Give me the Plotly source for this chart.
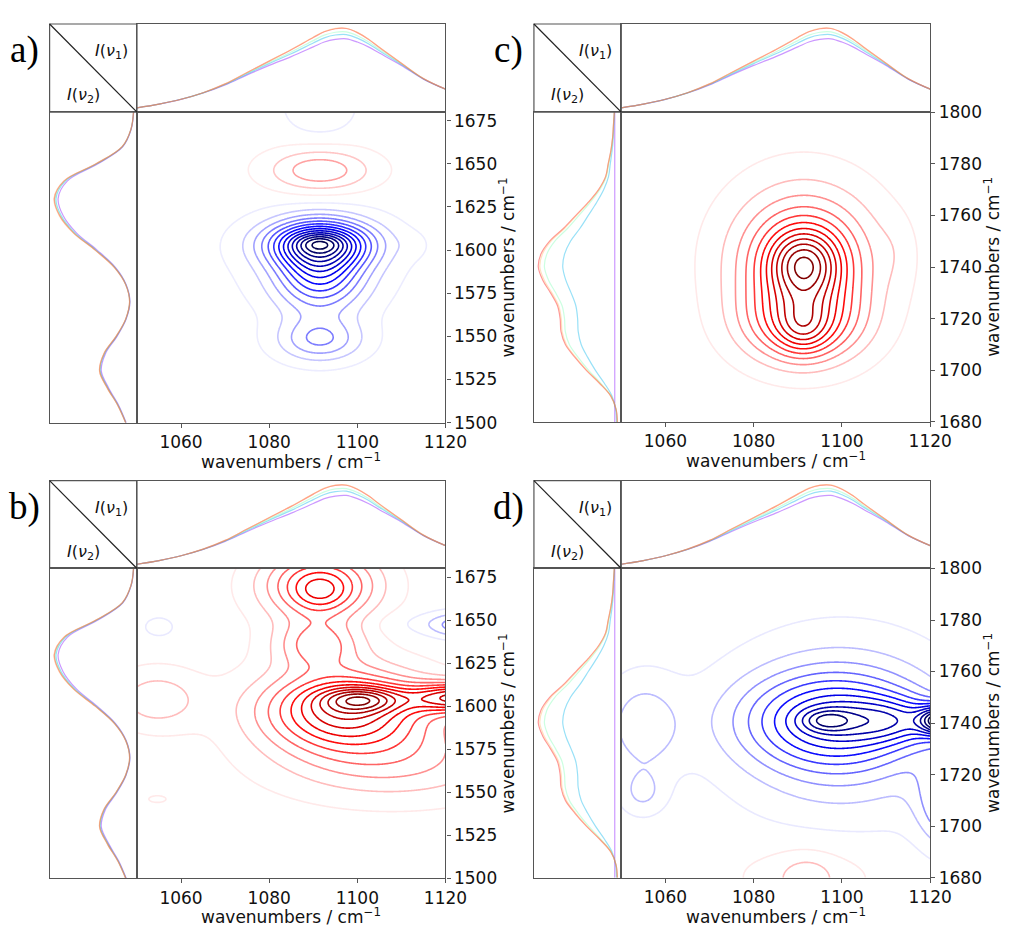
import numpy as np
import plotly.graph_objects as go

W, H = 1020, 933

# ---------------- 1D spectra (intensity, fraction of the side panel) ----------------
top_nu = [1050, 1055, 1060, 1065, 1070, 1075, 1080, 1085, 1090, 1092.5, 1095, 1097.5,
          1100, 1102.5, 1105, 1110, 1115, 1120]
top_int = [0.048, 0.09, 0.145, 0.22, 0.32, 0.45, 0.58, 0.71, 0.85, 0.915, 0.95, 0.952,
           0.905, 0.83, 0.735, 0.555, 0.38, 0.26]
top_spread = [0, 0, 0, 0.004, 0.012, 0.028, 0.05, 0.08, 0.11, 0.12, 0.125, 0.12,
              0.11, 0.09, 0.065, 0.025, 0.006, 0]

left_ab_nu = [1500, 1510, 1520, 1530, 1540, 1550, 1560, 1570, 1580, 1590,
              1600, 1610, 1620, 1630, 1640, 1650, 1660, 1670, 1680]
left_ab_int = [0.13, 0.22, 0.34, 0.43, 0.38, 0.24, 0.13, 0.085, 0.13, 0.26,
               0.48, 0.73, 0.89, 0.95, 0.84, 0.47, 0.17, 0.07, 0.04]

left_cd_nu = [1680, 1685, 1690, 1695, 1700, 1705, 1710, 1715, 1720, 1725, 1730, 1735, 1740,
              1745, 1750, 1755, 1760, 1765, 1770, 1775, 1780, 1785, 1790, 1795, 1800]
left_cd_int = [0.045, 0.06, 0.12, 0.25, 0.40, 0.53, 0.64, 0.69, 0.70, 0.73, 0.81, 0.90, 0.95,
               0.92, 0.82, 0.66, 0.52, 0.38, 0.26, 0.18, 0.15, 0.12, 0.10, 0.09, 0.08]
left_cd_floor = 0.075

spec_colors = ['rgb(128,0,255)', 'rgb(0,180,236)', 'rgb(128,255,180)', 'rgb(255,0,0)', 'rgb(255,180,98)']
top_spread_w = [1.0, 0.6, 0.35, 0.03, 0.0]
left_ab_scale = [0.95, 0.975, 0.985, 0.995, 1.0]
left_cd_scale = [0.0, 0.68, 0.92, 1.0, 0.98]

# ---------------- 2D correlation band components (nu1, nu2, width1, width2, amplitude) ----------------
a_nu1 = [1091.5, 1091.5, 1091.5, 1091.5, 1091.0, 1112.5, 1091.5, 1091.5]
a_nu2 = [1604, 1604, 1588, 1548, 1595, 1603, 1646, 1684]
a_w1 = [3.5, 8.5, 7.0, 6.8, 14, 2.5, 8.5, 5.5]
a_w2 = [3.5, 9.0, 16, 9.0, 22, 5.0, 9.0, 12]
a_amp = [-0.15, -0.6, -0.5, -0.28, -0.08, -0.03, 0.27, -0.12]

b_nu1 = [1101, 1097, 1124, 1054.5, 1054.6, 1091.5, 1091.5, 1091, 1055, 1124, 1122, 1108]
b_nu2 = [1604, 1598, 1605, 1604, 1546, 1666, 1670, 1636, 1646, 1647, 1648, 1568]
b_w1 = [6, 13, 8, 7, 2.5, 4, 9, 7, 3.5, 5, 12, 18]
b_w2 = [5, 16, 6, 12, 2.5, 7, 14, 10, 6, 5, 5, 16]
b_amp = [0.3, 0.55, 0.55, 0.15, 0.045, 0.09, 0.41, 0.25, -0.05, -0.18, -0.06, 0.18]

c_nu1 = [1091.4, 1091.4, 1091.0, 1091.3, 1112.0]
c_nu2 = [1741, 1742, 1718, 1716, 1746]
c_w1 = [5.5, 11, 9, 4, 3]
c_w2 = [9, 19, 10.5, 7, 9]
c_amp = [0.4, 0.45, 0.35, 0.15, 0.03]

d_nu1 = [1096.5, 1097, 1100, 1123, 1113, 1125, 1055, 1054.8, 1092, 1092]
d_nu2 = [1741, 1741, 1738, 1741, 1741, 1710, 1739, 1713, 1679, 1681]
d_w1 = [4, 14, 16, 3.5, 8, 5, 6, 3.5, 4, 12]
d_w2 = [3, 12, 22, 4, 6, 12, 13, 6, 6, 9]
d_amp = [-0.25, -0.45, -0.3, -0.9, -0.3, -0.4, -0.2, -0.14, 0.13, 0.1]

x_ticks = [1060, 1080, 1100, 1120]
y_ticks_ab = [1500, 1525, 1550, 1575, 1600, 1625, 1650, 1675]
y_ticks_cd = [1680, 1700, 1720, 1740, 1760, 1780, 1800]

seismic = [[0.0, 'rgb(0,0,77)'], [0.25, 'rgb(0,0,255)'], [0.5, 'rgb(255,255,255)'],
           [0.75, 'rgb(255,0,0)'], [1.0, 'rgb(128,0,0)']]

AX = '#555555'
FONT = 'DejaVu Sans'


def surface(n1, n2, c1, c2, w1, w2, amp):
    X, Y = np.meshgrid(n1, n2)
    Z = np.zeros_like(X)
    for p, q, s, t, a in zip(c1, c2, w1, w2, amp):
        Z += a * np.exp(-0.5 * ((X - p) / s) ** 2 - 0.5 * ((Y - q) / t) ** 2)
    return Z


panels = [
    dict(label='a)', box=(50.7, 140, 455.3, 14.3, 104.3, 421.7), yr=(1500, 1680), yt=y_ticks_ab,
         comp=(a_nu1, a_nu2, a_w1, a_w2, a_amp), K=14, left='ab'),
    dict(label='b)', box=(50.7, 140, 455.3, 481, 570.7, 887.3), yr=(1500, 1680), yt=y_ticks_ab,
         comp=(b_nu1, b_nu2, b_w1, b_w2, b_amp), K=12, left='ab'),
    dict(label='c)', box=(545.7, 635, 950.7, 14.3, 104.3, 421.0), yr=(1680, 1800), yt=y_ticks_cd,
         comp=(c_nu1, c_nu2, c_w1, c_w2, c_amp), K=12, left='cd'),
    dict(label='d)', box=(545.7, 635, 950.7, 481, 570.7, 886.7), yr=(1680, 1800), yt=y_ticks_cd,
         comp=(d_nu1, d_nu2, d_w1, d_w2, d_amp), K=12, left='cd'),
]


def aname(letter, n):
    return f'{letter}axis' + ('' if n == 1 else str(n))


def aref(letter, n):
    return letter + ('' if n == 1 else str(n))


fig = go.Figure()
lay = {}
shapes = []
annotations = []

base_axis = dict(showline=True, mirror=True, linecolor=AX, linewidth=1.2,
                 showgrid=False, zeroline=False)
nu1 = np.linspace(1050, 1120, 281)

for i, P in enumerate(panels):
    x0, x1, x2, y0, y1, y2 = P['box']
    nm, nt, nl = 3 * i + 1, 3 * i + 2, 3 * i + 3
    yr = P['yr']
    nu2 = np.linspace(yr[0], yr[1], int((yr[1] - yr[0]) * 2) + 1)
    Z = surface(nu1, nu2, *P['comp'])
    M = float(np.abs(Z).max())
    K = P['K']
    step = M / K
    fig.add_trace(go.Contour(
        x=nu1, y=nu2, z=Z, xaxis=aref('x', nm), yaxis=aref('y', nm),
        autocontour=False,
        contours=dict(start=-(K - 0.5) * step, end=(K - 0.5) * step + 1e-9, size=step,
                      coloring='lines', showlabels=False),
        colorscale=seismic, zmin=-M, zmax=M, showscale=False,
        line=dict(width=1.6, smoothing=1.0), hoverinfo='skip'))

    # top spectra
    for col, w in zip(spec_colors, top_spread_w):
        yy = [v - w * s for v, s in zip(top_int, top_spread)]
        fig.add_trace(go.Scatter(x=top_nu, y=yy, mode='lines', xaxis=aref('x', nt), yaxis=aref('y', nt),
                                 line=dict(color=col, width=1.2, shape='spline'), opacity=0.4,
                                 hoverinfo='skip', showlegend=False))
    # left spectra
    if P['left'] == 'ab':
        for col, s in zip(spec_colors, left_ab_scale):
            xx = [s * v for v in left_ab_int]
            fig.add_trace(go.Scatter(x=xx, y=left_ab_nu, mode='lines', xaxis=aref('x', nl), yaxis=aref('y', nl),
                                     line=dict(color=col, width=1.2, shape='spline'), opacity=0.4,
                                     hoverinfo='skip', showlegend=False))
    else:
        for col, s in zip(spec_colors, left_cd_scale):
            xx = [left_cd_floor + s * (v - left_cd_floor) for v in left_cd_int]
            fig.add_trace(go.Scatter(x=xx, y=left_cd_nu, mode='lines', xaxis=aref('x', nl), yaxis=aref('y', nl),
                                     line=dict(color=col, width=1.2, shape='spline'), opacity=0.4,
                                     hoverinfo='skip', showlegend=False))

    tickfont = dict(family=FONT, size=17, color='#111111')
    lay[aname('x', nm)] = dict(base_axis, domain=[x1 / W, x2 / W], anchor=aref('y', nm), range=[1050, 1120],
                               tickvals=x_ticks, ticks='outside', ticklen=4, tickcolor=AX,
                               tickfont=tickfont)
    lay[aname('y', nm)] = dict(base_axis, domain=[1 - y2 / H, 1 - y1 / H], anchor=aref('x', nm),
                               range=list(yr), side='right', tickvals=P['yt'], ticks='outside',
                               ticklen=4, tickcolor=AX, tickfont=tickfont)
    lay[aname('x', nt)] = dict(base_axis, domain=[x1 / W, x2 / W], anchor=aref('y', nt), range=[1050, 1120],
                               showticklabels=False, ticks='')
    lay[aname('y', nt)] = dict(base_axis, domain=[1 - y1 / H, 1 - y0 / H], anchor=aref('x', nt), range=[0, 1],
                               showticklabels=False, ticks='')
    lay[aname('x', nl)] = dict(base_axis, domain=[x0 / W, x1 / W], anchor=aref('y', nl), range=[1, 0],
                               showticklabels=False, ticks='')
    lay[aname('y', nl)] = dict(base_axis, domain=[1 - y2 / H, 1 - y1 / H], anchor=aref('x', nl),
                               range=list(yr), showticklabels=False, ticks='')

    # corner box with diagonal
    shapes.append(dict(type='rect', xref='paper', yref='paper', x0=x0 / W, x1=x1 / W,
                       y0=1 - y1 / H, y1=1 - y0 / H, line=dict(color=AX, width=1.2)))
    shapes.append(dict(type='line', xref='paper', yref='paper', x0=x0 / W, x1=x1 / W,
                       y0=1 - y0 / H, y1=1 - y1 / H, line=dict(color='#222222', width=1.2)))

    def ann(text, px, py, size=17, family=FONT, angle=0, color='#111111'):
        annotations.append(dict(text=text, x=px / W, y=1 - py / H, xref='paper', yref='paper',
                                xanchor='center', yanchor='middle', showarrow=False, textangle=angle,
                                font=dict(family=family, size=size, color=color)))

    ann(P['label'], x0 - 25.7, y0 + 27, size=37, family='Liberation Serif', color='#000000')
    ann('<i>I</i>(<i>ν</i><sub>1</sub>)', x0 + 63.3, y0 + 28, size=16)
    ann('<i>I</i>(<i>ν</i><sub>2</sub>)', x0 + 34.3, y0 + 73, size=16)
    ann('wavenumbers / cm<sup>−1</sup>', (x1 + x2) / 2, y2 + 39)
    ann('wavenumbers / cm<sup>−1</sup>', x2 + 63, (y1 + y2) / 2, angle=-90)

fig.update_layout(width=W, height=H, margin=dict(l=0, r=0, t=0, b=0),
                  paper_bgcolor='white', plot_bgcolor='white', showlegend=False,
                  shapes=shapes, annotations=annotations, **lay)
fig.write_html('out.html')
